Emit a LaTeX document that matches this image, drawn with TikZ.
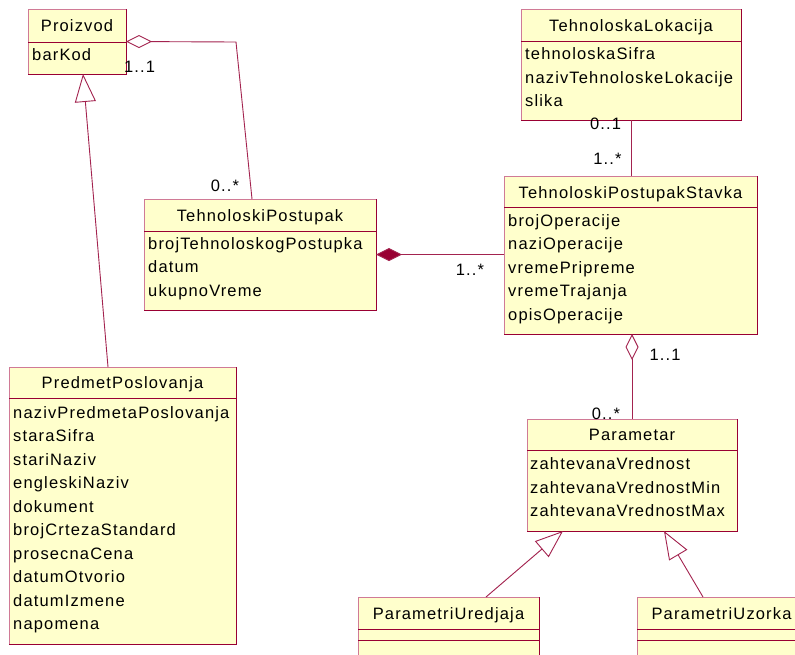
\documentclass[tikz,border=0pt]{standalone}
\usepackage{fontspec}
\setmainfont{Liberation Sans}[LetterSpace=7]
\usetikzlibrary{arrows.meta}

\definecolor{umlfill}{HTML}{FFFFCC}
\definecolor{umledge}{HTML}{990033}
\definecolor{umllight}{HTML}{D07A96}
\definecolor{umlline}{HTML}{A3234F}

\tikzset{
  classbox/.style={fill=umlfill, anchor=north west, inner sep=0pt, outer sep=0pt},
  darkedge/.style={draw=umledge, line width=0.9pt},
  lightedge/.style={draw=umllight, line width=0.9pt},
  umltext/.style={font=\fontsize{16.5}{18}\selectfont, inner sep=0pt, text=black},
  ctitle/.style={umltext, anchor=base},
  cattr/.style={umltext, anchor=base west},
  mult/.style={umltext, anchor=base},
  assoc/.style={draw=umlline, line width=0.9pt},
  aggr/.style={assoc, {Diamond[length=26pt, width=13pt, fill=white, line width=0.9pt]}-},
  compo/.style={assoc, {Diamond[length=26pt, width=13pt, fill=umledge, line width=0.9pt]}-},
  inherit/.style={assoc, -{Triangle[length=28pt, width=21pt, fill=white, line width=0.9pt]}},
}

% class frame: light top/left edges, dark bottom/right edges, dark compartment lines
\newcommand{\umlframe}[2]{%
  \draw[lightedge] (#1.south west) -- (#1.north west) -- (#1.north east);
  \draw[darkedge] (#1.north east) -- (#1.south east) -- (#1.south west);
  \draw[darkedge] ([yshift=-#2]#1.north west) -- ([yshift=-#2]#1.north east);
}

\begin{document}
\begin{tikzpicture}[x=1pt, y=-1pt]
\clip (0,0) rectangle (795,654);
\fill[white] (0,0) rectangle (795,654);

% ---------- classes ----------
\node[classbox, minimum width=98pt, minimum height=65pt] (proizvod) at (28,9) {};
\umlframe{proizvod}{33pt}
\node[ctitle] (proizvod-t) at (77,31) {Proizvod};
\node[cattr] (proizvod-a1) at (32,60) {barKod};

\node[classbox, minimum width=220pt, minimum height=111pt] (lokacija) at (521,9) {};
\umlframe{lokacija}{32pt}
\node[ctitle] (lokacija-t) at (631,31) {TehnoloskaLokacija};
\node[cattr] (lokacija-a1) at (525,59) {tehnoloskaSifra};
\node[cattr] (lokacija-a2) at (525,83) {nazivTehnoloskeLokacije};
\node[cattr] (lokacija-a3) at (525,106) {slika};

\node[classbox, minimum width=232pt, minimum height=111pt] (postupak) at (144,199) {};
\umlframe{postupak}{32pt}
\node[ctitle] (postupak-t) at (260,221) {TehnoloskiPostupak};
\node[cattr] (postupak-a1) at (148,249) {brojTehnoloskogPostupka};
\node[cattr] (postupak-a2) at (148,272.5) {datum};
\node[cattr] (postupak-a3) at (148,296) {ukupnoVreme};

\node[classbox, minimum width=253pt, minimum height=158pt] (stavka) at (504,176) {};
\umlframe{stavka}{31pt}
\node[ctitle] (stavka-t) at (630.5,198) {TehnoloskiPostupakStavka};
\node[cattr] (stavka-a1) at (508,226) {brojOperacije};
\node[cattr] (stavka-a2) at (508,249.5) {naziOperacije};
\node[cattr] (stavka-a3) at (508,273) {vremePripreme};
\node[cattr] (stavka-a4) at (508,296.5) {vremeTrajanja};
\node[cattr] (stavka-a5) at (508,320) {opisOperacije};

\node[classbox, minimum width=227pt, minimum height=277pt] (predmet) at (9,367) {};
\umlframe{predmet}{31pt}
\node[ctitle] (predmet-t) at (122.5,388) {PredmetPoslovanja};
\foreach \txt [count=\i from 0] in {nazivPredmetaPoslovanja, staraSifra, stariNaziv,
    engleskiNaziv, dokument, brojCrtezaStandard, prosecnaCena, datumOtvorio,
    datumIzmene, napomena}
  \node[cattr] (predmet-a\i) at (13,418+23.55*\i) {\txt};

\node[classbox, minimum width=210pt, minimum height=112pt] (parametar) at (527,419) {};
\umlframe{parametar}{31pt}
\node[ctitle] (parametar-t) at (632,440) {Parametar};
\node[cattr] (parametar-a1) at (530,469) {zahtevanaVrednost};
\node[cattr] (parametar-a2) at (530,493) {zahtevanaVrednostMin};
\node[cattr] (parametar-a3) at (530,516) {zahtevanaVrednostMax};

\node[classbox, minimum width=181pt, minimum height=100pt] (uredjaja) at (358,597) {};
\umlframe{uredjaja}{32pt}
\draw[darkedge] ([yshift=-43pt]uredjaja.north west) -- ([yshift=-43pt]uredjaja.north east);
\node[ctitle] (uredjaja-t) at (448.5,619) {ParametriUredjaja};

\node[classbox, minimum width=169pt, minimum height=100pt] (uzorka) at (637,597) {};
\umlframe{uzorka}{32pt}
\draw[darkedge] ([yshift=-43pt]uzorka.north west) -- ([yshift=-43pt]uzorka.north east);
\node[ctitle] (uzorka-t) at (721.5,619) {ParametriUzorka};

% ---------- relationships ----------
\coordinate (pzBend) at (236,42);
\draw[aggr] (proizvod.east) -- (pzBend) -- ([xshift=-8pt]postupak.north);
\node[mult] (m-pz1) at (139.5,72) {1..1};
\node[mult] (m-pz2) at (225,191) {0..*};

\draw[inherit] ([xshift=-14.5pt]predmet.north) -- ([xshift=6pt]proizvod.south);

\draw[assoc] (lokacija.south) -- (lokacija.south |- stavka.north);
\node[mult] (m-lk1) at (605.5,129) {0..1};
\node[mult] (m-lk2) at (607.5,164) {1..*};

\draw[compo] (postupak.east) -- (postupak.east -| stavka.west);
\node[mult] (m-ps) at (470,275) {1..*};

\draw[aggr] (parametar.north |- stavka.south) -- (parametar.north);
\node[mult] (m-sp1) at (665,360) {1..1};
\node[mult] (m-sp2) at (606,419) {0..*};

\draw[inherit] ([xshift=37.5pt]uredjaja.north) -- ([xshift=-69pt]parametar.south);
\draw[inherit] ([xshift=-18.5pt]uzorka.north) -- ([xshift=32pt]parametar.south);
\end{tikzpicture}
\end{document}
